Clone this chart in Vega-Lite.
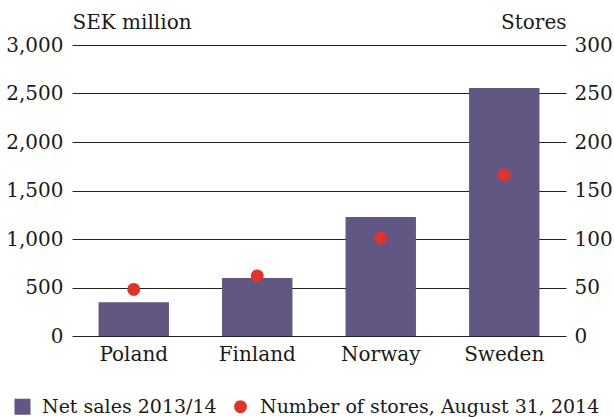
{
  "$schema": "https://vega.github.io/schema/vega-lite/v6.json",
  "autosize": "none",
  "width": 494,
  "height": 291,
  "padding": {"left": 72, "top": 45, "right": 48, "bottom": 81},
  "background": "white",
  "data": {
    "values": [
      {"country": "Poland", "sales": 347, "stores": 48},
      {"country": "Finland", "sales": 597, "stores": 62},
      {"country": "Norway", "sales": 1227, "stores": 101},
      {"country": "Sweden", "sales": 2556, "stores": 166}
    ]
  },
  "encoding": {
    "x": {
      "field": "country",
      "type": "nominal",
      "sort": null,
      "scale": {"paddingInner": 0.43, "paddingOuter": 0.215},
      "axis": {
        "title": null,
        "labelAngle": 0,
        "domain": false,
        "ticks": false,
        "labelPadding": 8
      }
    }
  },
  "layer": [
    {
      "mark": {"type": "bar"},
      "encoding": {
        "y": {
          "field": "sales",
          "type": "quantitative",
          "scale": {"domain": [0, 3000], "nice": false},
          "axis": {
            "orient": "left",
            "values": [0, 500, 1000, 1500, 2000, 2500, 3000],
            "format": ",d",
            "grid": true,
            "gridColor": "#222222",
            "gridWidth": 1,
            "gridOpacity": 1,
            "domain": false,
            "ticks": false,
            "labelPadding": 9,
            "title": "SEK million",
            "titleAngle": 0,
            "titleAlign": "left",
            "titleBaseline": "alphabetic",
            "titleX": 0,
            "titleY": -17,
            "titleFontWeight": "normal"
          }
        },
        "color": {
          "datum": "Net sales 2013/14",
          "type": "nominal",
          "scale": {
            "domain": ["Net sales 2013/14", "Number of stores, August 31, 2014"],
            "range": ["#625683", "#e2332a"]
          },
          "legend": {
            "title": null,
            "orient": "none",
            "direction": "horizontal",
            "legendX": -59,
            "legendY": 352,
            "padding": 0,
            "symbolSize": 256,
            "symbolOpacity": 1,
            "symbolStrokeWidth": 0,
            "labelOffset": 10,
            "columnPadding": 14,
            "encode": {
              "symbols": {
                "update": {
                  "shape": {"signal": "datum.value === 'Net sales 2013/14' ? 'M-1,-1H1V1H-1Z' : 'M-0.8,0A0.8,0.8,0,1,1,0.8,0A0.8,0.8,0,1,1,-0.8,0Z'"}
                }
              }
            }
          }
        }
      }
    },
    {
      "mark": {
        "type": "point",
        "filled": true,
        "opacity": 1,
        "size": 256,
        "shape": "M-0.8,0A0.8,0.8,0,1,1,0.8,0A0.8,0.8,0,1,1,-0.8,0Z"
      },
      "encoding": {
        "y": {
          "field": "stores",
          "type": "quantitative",
          "scale": {"domain": [0, 300], "nice": false},
          "axis": {
            "orient": "right",
            "values": [0, 50, 100, 150, 200, 250, 300],
            "grid": false,
            "domain": false,
            "ticks": false,
            "labelPadding": 8,
            "title": "Stores",
            "titleAngle": 0,
            "titleAlign": "right",
            "titleBaseline": "alphabetic",
            "titleX": 0,
            "titleY": -17,
            "titleFontWeight": "normal"
          }
        },
        "color": {
          "datum": "Number of stores, August 31, 2014",
          "type": "nominal"
        }
      }
    }
  ],
  "resolve": {"scale": {"y": "independent"}},
  "config": {
    "view": {"stroke": null},
    "font": "DejaVu Serif",
    "axis": {
      "labelFont": "DejaVu Serif",
      "labelFontSize": 20,
      "labelColor": "#1a1a1a",
      "titleFont": "DejaVu Serif",
      "titleFontSize": 20,
      "titleColor": "#1a1a1a"
    },
    "legend": {
      "labelFont": "DejaVu Serif",
      "labelFontSize": 19,
      "labelColor": "#1a1a1a",
      "labelLimit": 0
    }
  }
}
